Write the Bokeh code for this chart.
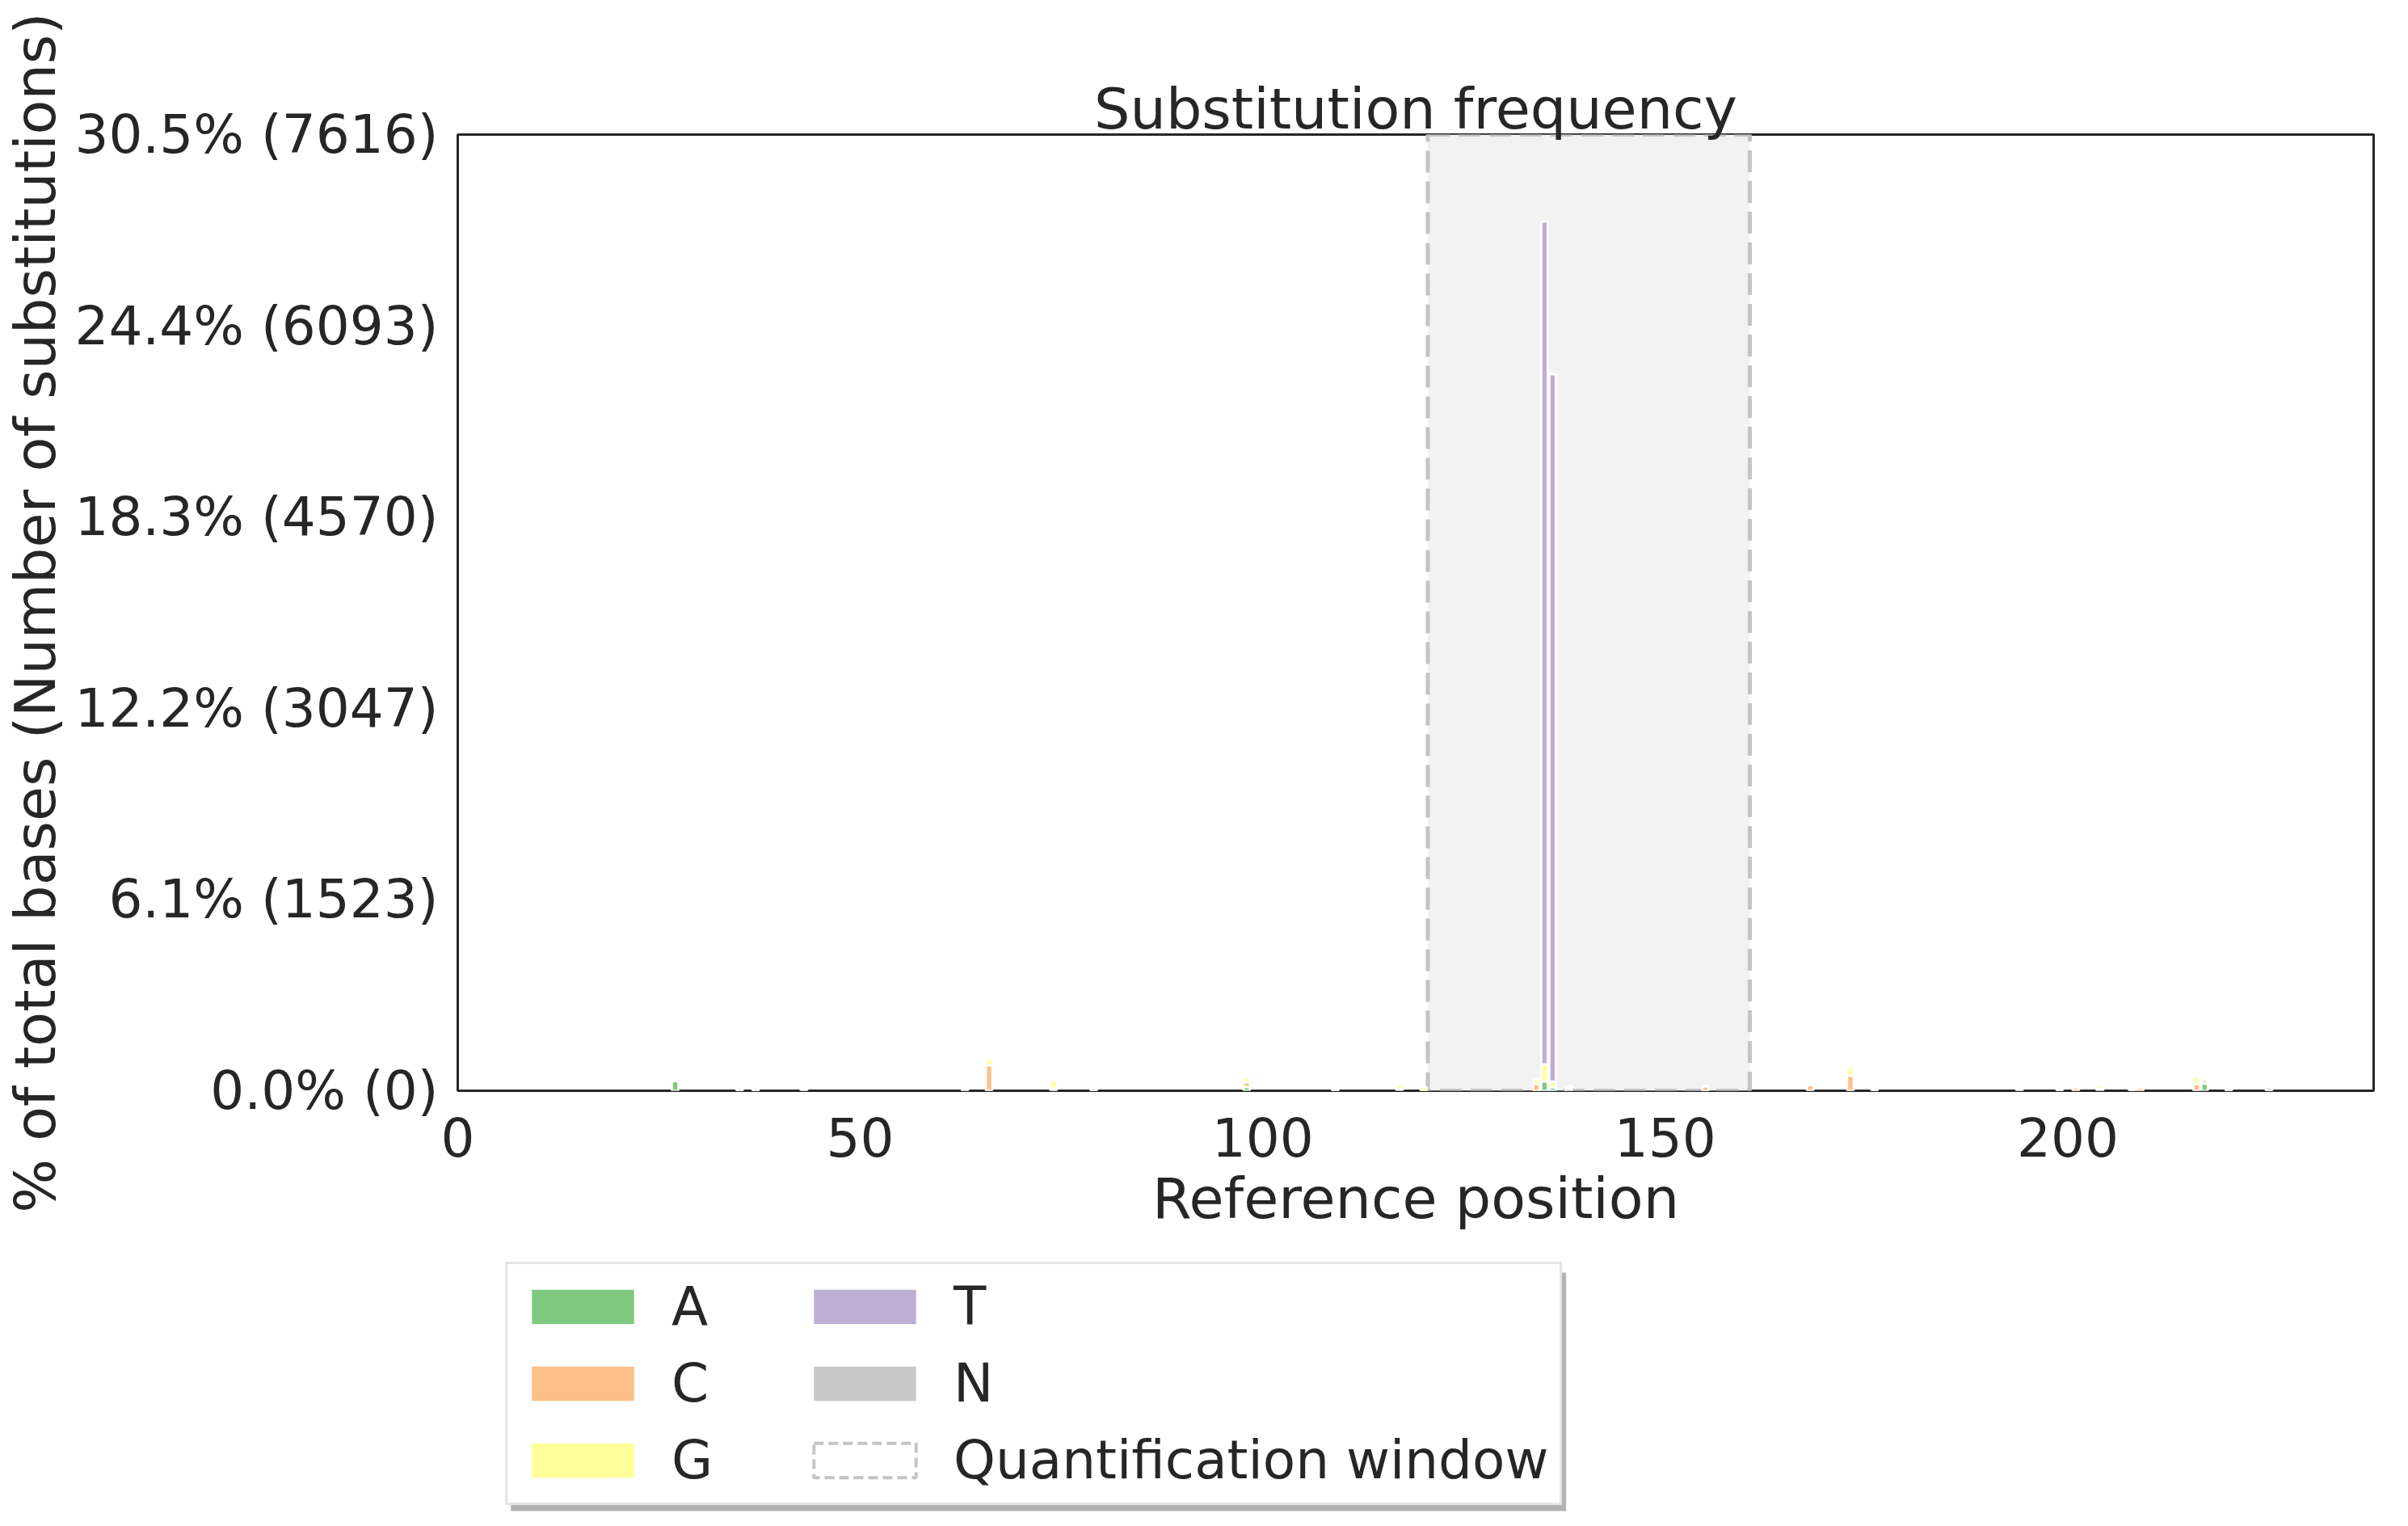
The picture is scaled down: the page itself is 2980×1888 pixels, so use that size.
from bokeh.plotting import figure
from bokeh.layouts import column
from bokeh.models import ColumnDataSource, Range1d, FixedTicker, Legend, LegendItem
from bokeh.embed import file_html
from bokeh.resources import INLINE

# ---- data ----
positions = [27, 35, 37, 43, 63, 66, 74, 79, 98, 109, 117, 120, 134, 135, 136,
             138, 155, 168, 173, 176, 194, 199, 201, 204, 208, 209, 216, 217, 220, 225]
sub_A = [80, 0, 0, 0, 0, 0, 0, 0, 29, 0, 15, 0, 0, 74, 28,
         18, 0, 0, 0, 0, 0, 0, 0, 15, 0, 0, 0, 60, 0, 0]
sub_C = [0, 0, 0, 20, 20, 203, 20, 0, 40, 0, 0, 0, 54, 0, 0,
         0, 36, 45, 119, 0, 20, 0, 25, 0, 0, 25, 54, 0, 0, 0]
sub_G = [0, 0, 0, 0, 0, 51, 66, 0, 39, 0, 35, 28, 39, 137, 45,
         20, 0, 0, 70, 22, 0, 20, 0, 30, 0, 0, 58, 0, 0, 0]
sub_T = [0, 0, 0, 0, 0, 0, 0, 20, 0, 0, 0, 0, 0, 6713, 5635,
         0, 0, 0, 0, 0, 0, 0, 0, 0, 0, 0, 0, 0, 22, 0]
sub_N = [0, 22, 22, 0, 0, 0, 0, 0, 0, 18, 0, 0, 0, 0, 0,
         0, 0, 0, 0, 0, 0, 0, 0, 0, 18, 0, 0, 25, 0, 24]

bases = ["A", "C", "G", "T", "N"]
base_colors = ["#7fc97f", "#fdc086", "#ffff99", "#beaed4", "#c8c8c8"]

y_tick_values = [0, 1523, 3047, 4570, 6093, 7616]
y_tick_labels = ["0.0% (0)", "6.1% (1523)", "12.2% (3047)", "18.3% (4570)",
                 "24.4% (6093)", "30.5% (7616)"]
x_tick_values = [0, 50, 100, 150, 200]
x_max = 238
window_start = 120.5
window_end = 160.5

FONT = "DejaVu Sans"
TXT = "#262626"
WIN_FILL = "#f2f2f2"
WIN_LINE = "#c4c4c4"
WIN_DASH = "27 11"

source = ColumnDataSource(data=dict(pos=positions, A=sub_A, C=sub_C, G=sub_G, T=sub_T, N=sub_N))

W = 2964
H_MAIN = 1556
H_LEG = 316
FRAME_W = 2382

p = figure(width=W, height=H_MAIN, output_backend="svg", toolbar_location=None,
           x_range=Range1d(0, x_max), y_range=Range1d(0, y_tick_values[-1]),
           min_border_left=555, min_border_top=166, min_border_right=27, min_border_bottom=207)

p.title.text = "Substitution frequency"
p.title.text_font = FONT
p.title.text_font_size = "70px"
p.title.text_font_style = "normal"
p.title.text_color = TXT
p.title.align = "center"
p.title.standoff = -19

# quantification window
win_src = ColumnDataSource(data=dict(left=[window_start], right=[window_end],
                                     bottom=[0], top=[y_tick_values[-1]]))
p.quad(left="left", right="right", bottom="bottom", top="top", source=win_src,
       fill_color=WIN_FILL, line_color=WIN_LINE, line_width=5, line_dash=WIN_DASH)

p.vbar_stack(bases, x="pos", width=0.8, source=source, color=base_colors,
             line_color="white", line_width=2.7)

p.xgrid.visible = False
p.ygrid.visible = False
p.background_fill_color = "white"
p.border_fill_color = "white"
p.outline_line_color = TXT
p.outline_line_width = 3

for ax in (p.xaxis[0], p.yaxis[0]):
    ax.axis_line_color = None
    ax.major_tick_line_color = None
    ax.minor_tick_line_color = None
    ax.major_tick_out = 0
    ax.major_tick_in = 0
    ax.minor_tick_out = 0
    ax.minor_tick_in = 0
    ax.major_label_text_font = FONT
    ax.major_label_text_font_size = "66px"
    ax.major_label_text_color = TXT
    ax.axis_label_text_font = FONT
    ax.axis_label_text_font_size = "70px"
    ax.axis_label_text_font_style = "normal"
    ax.axis_label_text_color = TXT

p.xaxis[0].ticker = FixedTicker(ticks=x_tick_values)
p.xaxis[0].axis_label = "Reference position"
p.xaxis[0].major_label_standoff = 32
p.xaxis[0].axis_label_standoff = 8
p.yaxis[0].ticker = FixedTicker(ticks=y_tick_values)
p.yaxis[0].major_label_overrides = {v: l for v, l in zip(y_tick_values, y_tick_labels)}
p.yaxis[0].axis_label = "% of total bases (Number of substitutions)"
p.yaxis[0].major_label_standoff = 24
p.yaxis[0].axis_label_standoff = 4

# ---- legend panel (below the chart; its frame is aligned with the chart frame) ----
lg = figure(width=W, height=H_LEG, output_backend="svg", toolbar_location=None,
            x_range=Range1d(0, FRAME_W), y_range=Range1d(0, H_LEG),
            x_axis_location=None, y_axis_location=None,
            min_border_left=0, min_border_right=0, min_border_top=0, min_border_bottom=0)
lg.xgrid.visible = False
lg.ygrid.visible = False
lg.outline_line_color = None
lg.background_fill_color = "white"
lg.border_fill_color = "white"

LEG_X, LEG_Y, LEG_W, LEG_H = 59, 10, 1312, 295
SHADOW = 7
# legend shadow
lg.quad(left=[LEG_X + SHADOW], right=[LEG_X + LEG_W + SHADOW],
        bottom=[LEG_Y - SHADOW], top=[LEG_Y + LEG_H - SHADOW],
        fill_color="#b3b3b3", line_color=None)

# swatch renderers for the legend (kept outside the visible range)
swatch = dict(left=[-20], right=[-10], bottom=[-20], top=[-10])
leg_renderers = []
for c in base_colors:
    leg_renderers.append(lg.quad(left="left", right="right", bottom="bottom", top="top",
                                 source=ColumnDataSource(data=dict(swatch)),
                                 fill_color=c, line_color=None))
win_leg = lg.quad(left="left", right="right", bottom="bottom", top="top",
                  source=ColumnDataSource(data=dict(swatch)),
                  fill_color="white", line_color=WIN_LINE, line_width=4, line_dash="12 6")

items = [LegendItem(label=b, renderers=[r]) for b, r in zip(bases, leg_renderers)]
items.append(LegendItem(label="Quantification window", renderers=[win_leg]))
legend = Legend(items=items, location=(LEG_X, LEG_Y), orientation="vertical", nrows=3,
                glyph_width=158, glyph_height=53, label_standoff=31, label_width=142,
                label_text_font=FONT, label_text_font_size="66px", label_text_color=TXT,
                spacing=18, padding=14, margin=0,
                border_line_color="#cccccc", border_line_width=3,
                background_fill_color="white", background_fill_alpha=1.0)
lg.add_layout(legend, "center")

layout = column(p, lg, spacing=0)
open("out.html", "w").write(file_html(layout, INLINE))
